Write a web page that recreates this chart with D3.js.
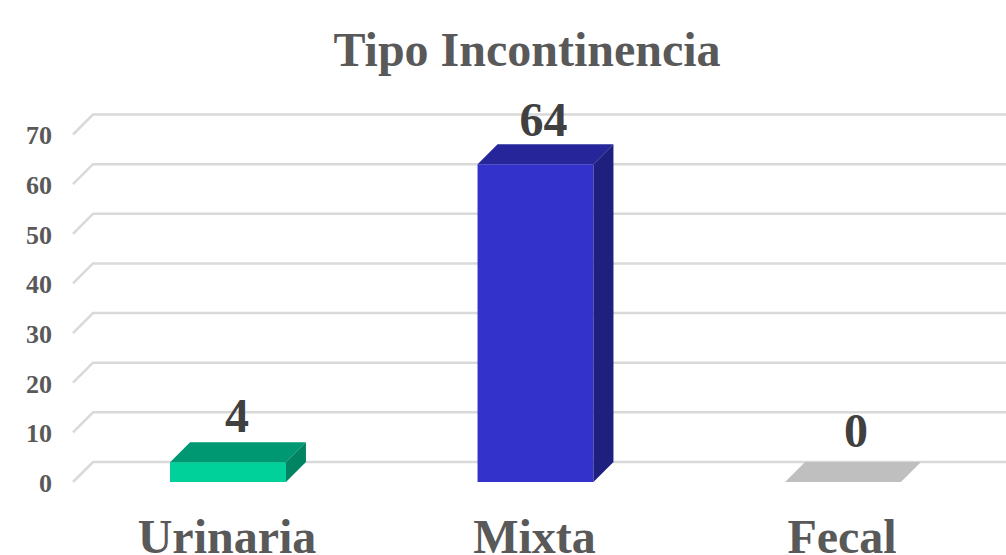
<!DOCTYPE html>
<html lang="en">
<head>
<meta charset="utf-8">
<title>Tipo Incontinencia</title>
<script src="https://cdn.jsdelivr.net/npm/d3@7"></script>
<style>
  html, body { margin: 0; padding: 0; background: #fff; }
  svg { display: block; }
  text { font-family: "Liberation Serif", serif; font-weight: bold; }
  .y.axis .domain, .y.axis .tick line { display: none; }
</style>
</head>
<body>
<div id="bod"></div>
<script>
let categories = ["Urinaria", "Mixta", "Fecal"]
let values = [4, 64, 0]
let yTicks = [0, 10, 20, 30, 40, 50, 60, 70]
let frontColors = ["#00d09a", "#3333cc", "#bfbfbf"]
let topColors = ["#009873", "#26269a", "#bfbfbf"]
let sideColors = ["#008462", "#1f1f80", "#bfbfbf"]

let width = 1006
let height = 555
let depthX = 20
let depthY = 20

let xScale = d3.scaleBand().domain(categories).range([74.25, 996.75]).paddingInner(0.623).paddingOuter(0.3115)
let yScale = d3.scaleLinear().domain([0, 70]).range([482, 134.5])

let svg = d3.select("#bod").append("svg").attr("width", width).attr("height", height)

svg.append("text")
   .attr("x", 527)
   .attr("y", 66)
   .attr("text-anchor", "middle")
   .attr("font-size", 48)
   .attr("fill", "#595959")
   .text("Tipo Incontinencia")

// floor/wall gridlines, the short slanted bit then the long back line
let grid = svg.append("g").attr("id", "grid")
grid.selectAll("path")
    .data(yTicks)
    .enter()
    .append("path")
    .attr("d", (d) => {
      let y = yScale(d)
      return "M73," + y + "L" + (73 + depthX) + "," + (y - depthY) + "L" + width + "," + (y - depthY)
    })
    .attr("fill", "none")
    .attr("stroke", "#d9d9d9")
    .attr("stroke-width", 2.5)

let yAxis = d3.axisLeft().scale(yScale).tickValues(yTicks).tickSize(0).tickPadding(0)
svg.append("g")
   .attr("class", "y axis")
   .attr("transform", "translate(52,1)")
   .call(yAxis)
   .call((g) => g.selectAll("text")
     .attr("font-size", 26)
     .attr("font-family", "Liberation Serif")
     .attr("fill", "#595959"))

let xAxis = d3.axisBottom().scale(xScale).tickSize(0).tickPadding(0)
svg.append("g")
   .attr("class", "x axis")
   .attr("transform", "translate(-1,519)")
   .call(xAxis)
   .call((g) => g.select(".domain").remove())
   .call((g) => g.selectAll("text")
     .attr("font-size", 48)
     .attr("font-family", "Liberation Serif")
     .attr("fill", "#595959"))

let bars = svg.append("g").attr("id", "bars")
  .selectAll("g")
  .data(values)
  .enter()
  .append("g")

let corners = (d, i) => {
  let x0 = xScale(categories[i])
  return { x0: x0, x1: x0 + xScale.bandwidth(), y0: yScale(0), y1: yScale(d) }
}

bars.append("rect")
    .attr("x", (d, i) => corners(d, i).x0)
    .attr("y", (d, i) => corners(d, i).y1)
    .attr("width", xScale.bandwidth())
    .attr("height", (d, i) => corners(d, i).y0 - corners(d, i).y1)
    .attr("fill", (d, i) => frontColors[i])

bars.append("path")
    .attr("d", (d, i) => {
      let c = corners(d, i)
      return "M" + c.x0 + "," + c.y1 + "L" + (c.x0 + depthX) + "," + (c.y1 - depthY) + "L" + (c.x1 + depthX) + "," + (c.y1 - depthY) + "L" + c.x1 + "," + c.y1 + "Z"
    })
    .attr("fill", (d, i) => topColors[i])

bars.append("path")
    .attr("d", (d, i) => {
      let c = corners(d, i)
      return "M" + c.x1 + "," + c.y1 + "L" + (c.x1 + depthX) + "," + (c.y1 - depthY) + "L" + (c.x1 + depthX) + "," + (c.y0 - depthY) + "L" + c.x1 + "," + c.y0 + "Z"
    })
    .attr("fill", (d, i) => sideColors[i])

// labels sit a bit off the bar, not the same amount on each one
let labelDx = [9, 8, 13]
let labelDy = [-30, -28, -35]
bars.append("text")
    .attr("x", (d, i) => xScale(categories[i]) + xScale.bandwidth() / 2 + labelDx[i])
    .attr("y", (d, i) => yScale(d) + labelDy[i])
    .attr("text-anchor", "middle")
    .attr("font-size", 48)
    .attr("fill", "#404040")
    .text((d) => d)
</script>
</body>
</html>
